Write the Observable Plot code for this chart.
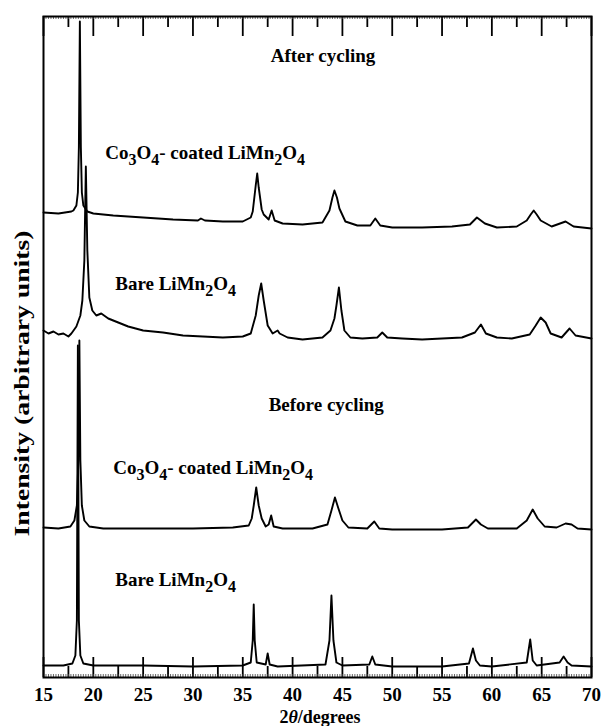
<!DOCTYPE html>
<html><head><meta charset="utf-8">
<script src="https://cdn.jsdelivr.net/npm/d3@7"></script>
<script src="https://cdn.jsdelivr.net/npm/@observablehq/plot@0.6"></script>
<style>body{margin:0;background:#fff}</style>
</head><body><div id="chart"></div>
<script>
// 2θ (degrees) and intensity (arbitrary units, patterns offset vertically)
const coAfterX = [15,16.5,17.8,18.0,18.3,18.45,18.55,18.65,18.75,18.85,19.0,19.4,20,22,25,28,30.5,30.8,31.2,33,35,35.8,36.0,36.3,36.45,36.6,36.9,37.1,37.6,37.9,38.2,39,41,43,43.7,44.0,44.2,44.45,44.7,45.3,46.5,47.8,48.3,48.8,50,53,56,57.8,58.5,59.3,60.5,62.5,63.5,63.9,64.2,64.5,64.9,66,67.4,68.2,70];
const coAfterY = [465,464,466,467,472,485,530,656,530,485,472,466,464,462,460,458,457,459,457,456,456,460,466,492,504,490,468,463,458,467,457,454,453,455,467,480,487,480,469,456,452,452,459,452,450,450,451,453,460,454,450,451,457,463,467,463,457,451,456,451,449];

const bareAfterX = [15,15.5,16,16.5,17,17.5,17.8,18.3,18.7,18.9,19.1,19.25,19.4,19.6,19.9,20.3,20.8,21.5,22.5,23.5,25,27,29,31,33,35,35.8,36.3,36.6,36.85,37.1,37.5,38.0,38.5,38.7,39.5,41,43,43.8,44.2,44.4,44.65,44.9,45.2,45.8,47,48.5,49.0,49.5,51,53,55,57,58.3,58.9,59.4,60.5,62,63.8,64.4,64.9,65.4,65.9,67,67.8,68.4,70];
const bareAfterY = [347,344,346,343,344,341,344,351,362,377,417,511,427,380,367,362,364,359,355,351,347,345,342,341,340,341,344,362,382,394,377,352,344,347,344,340,338,340,347,359,372,390,367,347,340,339,340,345,340,339,338,339,340,345,353,344,340,339,343,352,360,355,344,340,349,342,339];

const coBeforeX = [15,16.5,17.7,18.1,18.35,18.5,18.6,18.7,18.85,19.1,19.6,21,25,30,34,35.6,35.9,36.1,36.35,36.6,36.9,37.3,37.6,37.85,38.1,39,42,43.5,43.9,44.25,44.6,45.0,45.6,47.5,48.2,48.7,50,55,57.6,58.0,58.4,58.9,59.6,62.5,63.5,64.1,64.6,65.3,66.5,67.4,68.0,68.6,70];
const coBeforeY = [150,149,151,157,172,217,337,217,172,157,151,149,149,149,150,152,159,172,190,172,159,151,153,162,151,149,149,153,167,180,169,157,150,149,156,149,148,148,150,154,158,153,149,149,157,168,159,151,150,154,153,149,148];

const bareBeforeX = [15,17,17.9,18.2,18.35,18.45,18.55,18.7,19.0,20,25,30,35,35.8,36.0,36.1,36.2,36.4,37.3,37.5,37.7,38.5,43.3,43.7,43.9,44.1,44.4,45,47.7,48.0,48.3,50,55,57.7,58.1,58.4,58.8,60,63.5,63.85,64.1,64.5,66.8,67.2,67.6,68,70];
const bareBeforeY = [12,12,14,22,57,332,57,22,14,12,12,11,12,15,37,73,37,15,13,24,13,11,13,37,82,37,15,12,13,21,13,11,11,14,29,17,12,11,15,38,17,12,15,21,15,12,11];

const seriesNames = ["Co3O4-coated, after cycling","Bare, after cycling","Co3O4-coated, before cycling","Bare, before cycling"];
const seriesX = [coAfterX, bareAfterX, coBeforeX, bareBeforeX];
const seriesY = [coAfterY, bareAfterY, coBeforeY, bareBeforeY];

const labelTexts = ["After cycling","Co_3O_4- coated LiMn_2O_4","Bare LiMn_2O_4","Before cycling","Co_3O_4- coated LiMn_2O_4","Bare LiMn_2O_4"];
const labelX = [37.8, 21.2, 22.2, 37.6, 22.0, 22.2];
const labelY = [622, 525, 394, 273, 210, 98];

const xTicks = [15,20,25,30,35,40,45,50,55,60,65,70];
const xMinorTicks = [17.5,22.5,27.5,32.5,37.5,42.5,47.5,52.5,57.5,62.5,67.5];
const xFineTicks = d3.range(15, 70.001, 0.25);
const xLabel = ["2", "θ", "/degrees"];
const yLabel = "Intensity (arbitrary units)";

const rows = [];
seriesNames.forEach((name, k) => seriesX[k].forEach((x, i) => rows.push({series: name, x, y: seriesY[k][i]})));
const labels = labelTexts.map((t, i) => ({t, x: labelX[i], y: labelY[i]}));

const W = 603, H = 726;
const plot = Plot.plot({
  width: W, height: H,
  marginLeft: 43, marginRight: 12, marginTop: 16, marginBottom: 49,
  x: {domain: [15, 70]},
  y: {domain: [0, 661], axis: null},
  style: {fontFamily: "'Liberation Serif', 'Times New Roman', serif", fontWeight: "bold", background: "#fff", color: "#000"},
  marks: [
    Plot.line(rows, {x: "x", y: "y", z: "series", stroke: "#000", strokeWidth: 1.9, curve: "linear"}),
    Plot.tickX(xTicks, {x: d => d, insetTop: 641, strokeWidth: 1.8}),
    Plot.tickX(xTicks, {x: d => d, insetBottom: 641, strokeWidth: 1.8}),
    Plot.tickX(xMinorTicks, {x: d => d, insetTop: 650, strokeWidth: 1.8}),
    Plot.tickX(xMinorTicks, {x: d => d, insetBottom: 650, strokeWidth: 1.8}),
    Plot.tickX(xFineTicks, {x: d => d, insetTop: 658, strokeWidth: 0.8, stroke: "#444"}),
    Plot.tickX(xFineTicks, {x: d => d, insetBottom: 658, strokeWidth: 0.8, stroke: "#444"}),
    Plot.frame({stroke: "#000", strokeWidth: 2}),
    Plot.axisX(xTicks, {tickSize: 0, tickPadding: 10, fontSize: 19, label: null, tickFormat: d => String(d)}),
    Plot.text(labels, {x: "x", y: "y", text: "t", textAnchor: "start", fontSize: 19, fill: "#000"})
  ]
});

// subscripts in labels
plot.querySelectorAll('g[aria-label="text"] text').forEach(el => {
  const parts = el.textContent.split(/_(\d)/);
  if (parts.length === 1) return;
  el.textContent = "";
  let shifted = false;
  parts.forEach((p, i) => {
    const ts = document.createElementNS("http://www.w3.org/2000/svg", "tspan");
    if (i % 2 === 1) {
      ts.setAttribute("font-size", 16);
      if (!shifted) ts.setAttribute("dy", 6);
      shifted = true;
    } else if (p) {
      if (shifted) ts.setAttribute("dy", -6);
      shifted = false;
    } else return;
    ts.textContent = p; el.appendChild(ts);
  });
});

const sx = plot.scale("x"), sy = plot.scale("y");
const svg = d3.select(plot);
const xl = svg.append("text")
  .attr("x", (sx.range[0] + sx.range[1]) / 2 + 3).attr("y", H - 3)
  .attr("text-anchor", "middle").attr("font-size", 18).attr("font-weight", "bold");
xl.append("tspan").text(xLabel[0]);
xl.append("tspan").attr("font-style", "italic").text(xLabel[1]);
xl.append("tspan").text(xLabel[2]);
const ymid = (sy.range[0] + sy.range[1]) / 2;
svg.append("text")
  .attr("transform", `translate(22,${ymid + 37}) rotate(-90)`)
  .attr("text-anchor", "middle").attr("dy", "0.35em")
  .attr("font-size", 21).attr("font-weight", "bold")
  .attr("textLength", 306).attr("lengthAdjust", "spacingAndGlyphs")
  .text(yLabel);

document.getElementById("chart").appendChild(plot);
</script>
</body></html>
